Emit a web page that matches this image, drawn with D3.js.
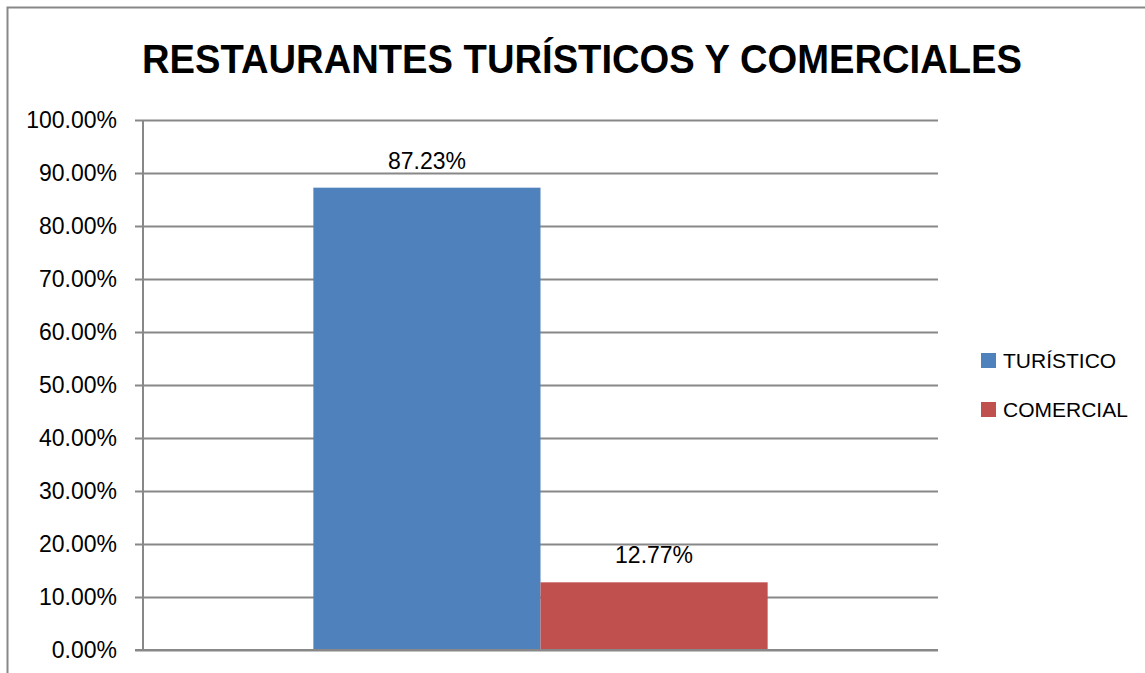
<!DOCTYPE html>
<html>
<head>
<meta charset="utf-8">
<script src="https://cdn.jsdelivr.net/npm/d3@7"></script>
<style>
  body { margin: 0; background: #fff; }
  svg { display: block; font-family: "Liberation Sans", Arial, sans-serif; }
</style>
</head>
<body>
<div id="chart"></div>
<script>
// chart data
var title = "RESTAURANTES TURÍSTICOS Y COMERCIALES";
var categories = [""];
var seriesNames = ["TURÍSTICO", "COMERCIAL"];
var seriesValues = [0.8723, 0.1277];
var seriesColors = ["#4F81BD", "#C0504D"];
var yTicks = [0, 0.1, 0.2, 0.3, 0.4, 0.5, 0.6, 0.7, 0.8, 0.9, 1.0];

var width = 1145, height = 673;
var plot = {left: 143, right: 938, top: 120, bottom: 650};

var svg = d3.select("#chart").append("svg")
    .attr("width", width)
    .attr("height", height);

// outer chart border
svg.append("rect")
    .attr("x", 7.5).attr("y", 7.5)
    .attr("width", width + 20).attr("height", height + 20)
    .attr("fill", "#fff")
    .attr("stroke", "#888")
    .attr("stroke-width", 2);

// title
svg.append("text")
    .attr("x", 582)
    .attr("y", 73)
    .attr("text-anchor", "middle")
    .attr("font-weight", "bold")
    .attr("font-size", 41)
    .attr("textLength", 880)
    .attr("lengthAdjust", "spacingAndGlyphs")
    .attr("fill", "#000")
    .text(title);

var yScale = d3.scaleLinear().domain([0, 1]).range([plot.bottom, plot.top]);

// Excel style: gap width 75% between category groups
var xScale = d3.scaleBand().domain(categories)
    .range([plot.left, plot.right])
    .paddingInner(0.75 / 1.75).paddingOuter(0.75 / 2 / 1.75 * 1.0);
var xSeries = d3.scaleBand().domain(seriesNames)
    .range([0, xScale.bandwidth()]);

// y gridlines + axis
var yAxis = d3.axisLeft(yScale)
    .tickValues(yTicks)
    .tickSize(-(plot.right - plot.left))
    .tickFormat(d => (d * 100).toFixed(2) + "%");

var gy = svg.append("g")
    .attr("transform", "translate(" + plot.left + ",0)")
    .call(yAxis);
gy.select(".domain").remove();
gy.selectAll(".tick line")
    .attr("x1", -8)
    .attr("stroke", "#888")
    .attr("stroke-width", 2);
gy.selectAll(".tick text")
    .attr("x", -26)
    .attr("font-size", 23)
    .attr("fill", "#000")
    .attr("font-family", "Liberation Sans, Arial, sans-serif");

// vertical axis line
svg.append("line")
    .attr("x1", plot.left).attr("x2", plot.left)
    .attr("y1", plot.top).attr("y2", plot.bottom)
    .attr("stroke", "#888")
    .attr("stroke-width", 2);

// bars
var bars = seriesNames.map((name, i) => ({name: name, value: seriesValues[i], color: seriesColors[i]}));

svg.selectAll(".bar")
    .data(bars)
    .enter().append("rect")
    .attr("class", "bar")
    .attr("x", d => xScale(categories[0]) + xSeries(d.name))
    .attr("width", xSeries.bandwidth())
    .attr("y", d => yScale(d.value))
    .attr("height", d => yScale(0) - yScale(d.value))
    .attr("fill", d => d.color);

// bottom axis line over bars
svg.append("line")
    .attr("x1", plot.left - 8).attr("x2", plot.right)
    .attr("y1", plot.bottom).attr("y2", plot.bottom)
    .attr("stroke", "#888")
    .attr("stroke-width", 2);

// data labels
svg.selectAll(".label")
    .data(bars)
    .enter().append("text")
    .attr("class", "label")
    .attr("x", d => xScale(categories[0]) + xSeries(d.name) + xSeries.bandwidth() / 2)
    .attr("y", d => yScale(d.value) - 19)
    .attr("text-anchor", "middle")
    .attr("font-size", 23)
    .attr("fill", "#000")
    .text(d => (d.value * 100).toFixed(2) + "%");

// legend
var legend = svg.selectAll(".legend")
    .data(bars)
    .enter().append("g")
    .attr("class", "legend")
    .attr("transform", (d, i) => "translate(981," + (353 + i * 49) + ")");

legend.append("rect")
    .attr("width", 15).attr("height", 15)
    .attr("fill", d => d.color);

legend.append("text")
    .attr("x", 22)
    .attr("y", 15)
    .attr("font-size", 21)
    .attr("fill", "#000")
    .text(d => d.name);
</script>
</body>
</html>
